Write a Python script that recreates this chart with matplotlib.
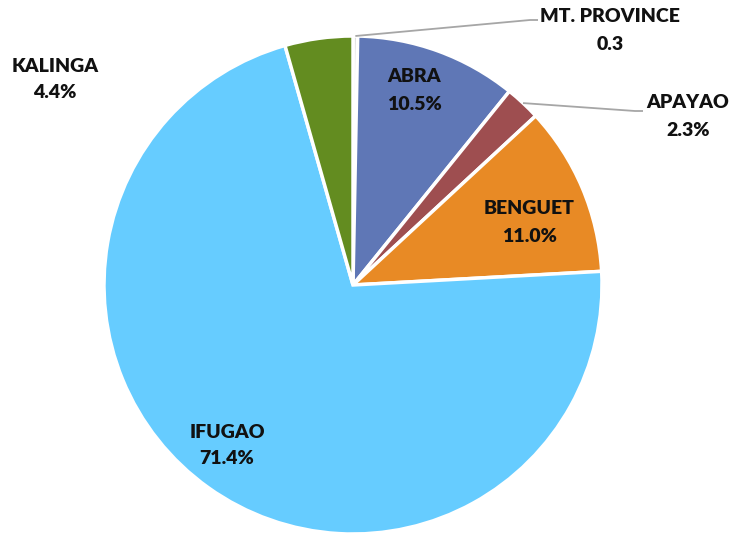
import numpy as np
import matplotlib
matplotlib.use("Agg")
import matplotlib.pyplot as plt

provinces = ["MT. PROVINCE", "ABRA", "APAYAO", "BENGUET", "IFUGAO", "KALINGA"]
values = [0.3, 10.5, 2.3, 11.0, 71.4, 4.4]
value_labels = ["0.3", "10.5%", "2.3%", "11.0%", "71.4%", "4.4%"]
colors = ["#D9D9D9", "#5F77B6", "#9E4E50", "#E88A25", "#66CCFF", "#638C20"]

W, H = 729, 533
fig = plt.figure(figsize=(W / 100, H / 100), dpi=100)
ax = fig.add_axes([0, 0, 1, 1])

cx, cy, R = 353, H - 285, 249
wedges, _ = ax.pie(values, colors=colors, startangle=90, counterclock=False,
                   center=(cx, cy), radius=R, normalize=True,
                   wedgeprops=dict(edgecolor="white", linewidth=2.5))
ax.set_xlim(0, W)
ax.set_ylim(0, H)
ax.set_aspect("equal")
ax.axis("off")

# label positions (pixel coords, top-left origin)
label_pos = {
    "MT. PROVINCE": (610, 17),
    "ABRA": (414, 77),
    "APAYAO": (688, 103),
    "BENGUET": (529, 209),
    "IFUGAO": (227, 432),
    "KALINGA": (55, 66),
}
font = dict(family=["Lato", "DejaVu Sans"], fontweight="heavy", fontsize=14, color="#111111")
for name, vl in zip(provinces, value_labels):
    px, py = label_pos[name]
    ax.text(px, H - py, name, ha="center", va="center", **font)
    ax.text(px, H - py - 27, vl, ha="center", va="center", **font)

# leader lines
leaders = {"MT. PROVINCE": (530, 20, 538), "APAYAO": (635, 111, 643)}
for w, name in zip(wedges, provinces):
    if name in leaders:
        ang = np.deg2rad((w.theta1 + w.theta2) / 2)
        x0, y0 = cx + R * np.cos(ang), cy + R * np.sin(ang)
        x1, y1, x2 = leaders[name]
        ax.plot([x0, x1, x2], [y0, H - y1, H - y1], color="#A6A6A6", lw=1.3, solid_capstyle="butt")

fig.savefig("out.png", dpi=100)
